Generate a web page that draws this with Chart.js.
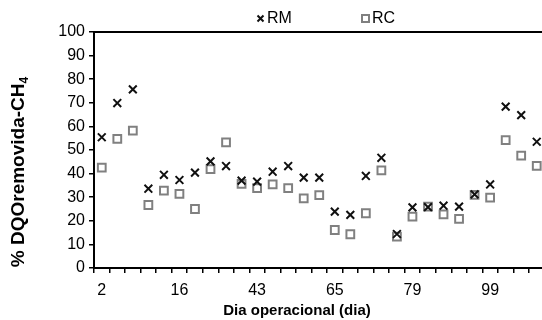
<!DOCTYPE html>
<html>
<head>
<meta charset="utf-8">
<script src="https://cdn.jsdelivr.net/npm/chart.js@4.4.1/dist/chart.umd.min.js"></script>
<style>
  html, body { margin: 0; padding: 0; background: #fff; overflow: hidden; }
  #wrap { position: relative; width: 542px; height: 320px; overflow: hidden;
          font-family: "Liberation Sans", Arial, sans-serif; color: #000; }
  #dqo-chart { position: absolute; left: 0; top: 0; }
  #chart-legend { position: absolute; top: 9px; left: 256px; font-size: 16px; line-height: 18px;
                  display: flex; white-space: nowrap; }
  #chart-legend .item { display: flex; align-items: center; }
  #chart-legend .item + .item { margin-left: 69px; }
  #chart-legend svg { margin-right: 2px; }
  #y-title { position: absolute; left: -109px; top: 158px; width: 260px; text-align: center;
             transform: rotate(-90deg); font-weight: bold; font-size: 19px; line-height: 22px; }
  #y-title sub { font-size: 12px; vertical-align: -4px; }
  #x-title { position: absolute; left: 147px; top: 301px; width: 300px; text-align: center;
             font-weight: bold; font-size: 15px; line-height: 18px; }
</style>
</head>
<body>
<div id="wrap">
  <canvas id="dqo-chart" width="552" height="320"></canvas>
  <div id="chart-legend"></div>
  <div id="y-title">% DQOremovida-CH<sub>4</sub></div>
  <div id="x-title">Dia operacional (dia)</div>
</div>
<script>
// dias de operação (só alguns rotulados no eixo)
const dias = ['2', '', '', '', '', '16', '', '', '', '', '43', '', '', '', '',
              '65', '', '', '', '', '79', '', '', '', '', '99', '', '', ''];

// % DQO removida convertida em CH4
const rm = [55.4, 69.9, 75.7, 33.6, 39.5, 37.3, 40.4, 45.2, 43.2, 37.0, 36.6, 40.8, 43.2, 38.3, 38.3,
            23.9, 22.5, 39.0, 46.7, 14.4, 25.7, 25.8, 26.4, 26.0, 31.2, 35.4, 68.4, 64.8, 53.5];
const rc = [42.5, 54.7, 58.2, 26.7, 32.8, 31.4, 25.0, 41.9, 53.2, 35.6, 33.8, 35.4, 33.8, 29.5, 30.9,
            16.1, 14.3, 23.2, 41.4, 13.3, 21.8, 26.0, 22.7, 20.8, 31.0, 29.8, 54.2, 47.6, 43.3];

const yTicks = [0, 10, 20, 30, 40, 50, 60, 70, 80, 90, 100];

const FONT = '"Liberation Sans", Arial, sans-serif';

// linha superior da área do gráfico
const topFrame = {
  id: 'topFrame',
  afterDraw(chart) {
    const { ctx, chartArea } = chart;
    ctx.save();
    ctx.strokeStyle = '#000';
    ctx.lineWidth = 2;
    ctx.beginPath();
    ctx.moveTo(chartArea.left, chartArea.top);
    ctx.lineTo(chartArea.right, chartArea.top);
    ctx.stroke();
    ctx.restore();
  }
};

const ctx = document.getElementById('dqo-chart').getContext('2d');
const chart = new Chart(ctx, {
  type: 'line',
  data: {
    labels: dias,
    datasets: [
      {
        label: 'RM',
        data: rm,
        showLine: false,
        pointStyle: 'crossRot',
        pointRadius: 5.5,
        pointBorderWidth: 2,
        borderColor: '#111',
        backgroundColor: '#111'
      },
      {
        label: 'RC',
        data: rc,
        showLine: false,
        pointStyle: 'rect',
        pointRadius: 5.5,
        pointBorderWidth: 2,
        borderColor: '#808080',
        backgroundColor: 'rgba(255,255,255,0)'
      }
    ]
  },
  options: {
    responsive: false,
    animation: false,
    layout: { padding: { left: 0, top: 32, right: 2, bottom: 0 } },
    plugins: {
      legend: { display: false },
      tooltip: { enabled: false }
    },
    scales: {
      x: {
        type: 'category',
        offset: true,
        grid: { offset: true, drawOnChartArea: false, tickLength: 5, color: '#000', lineWidth: 1.5 },
        border: { color: '#000', width: 2 },
        ticks: {
          autoSkip: false,
          maxRotation: 0,
          padding: 8,
          color: '#000',
          font: { family: FONT, size: 16 },
          callback: (v, i) => dias[i]
        },
        afterFit: s => { s.height = 52; }
      },
      y: {
        min: 0,
        max: 100,
        afterBuildTicks: s => { s.ticks = yTicks.map(v => ({ value: v })); },
        grid: { drawOnChartArea: false, tickLength: 5, color: '#000', lineWidth: 1.5 },
        border: { color: '#000', width: 2 },
        ticks: {
          padding: 4,
          color: '#000',
          font: { family: FONT, size: 16 }
        },
        afterFit: s => { s.width = 94; }
      }
    }
  },
  plugins: [topFrame]
});

// legenda
const legendEl = document.getElementById('chart-legend');
const marcadores = {
  RM: '<svg width="9" height="9"><path d="M1.5 1.5L7.5 7.5M7.5 1.5L1.5 7.5" stroke="#111" stroke-width="2"/></svg>',
  RC: '<svg width="9" height="9"><rect x="1" y="1" width="7" height="7" fill="none" stroke="#808080" stroke-width="2"/></svg>'
};
legendEl.innerHTML = chart.data.datasets
  .map(d => `<span class="item">${marcadores[d.label]}${d.label}</span>`)
  .join('');
</script>
</body>
</html>
